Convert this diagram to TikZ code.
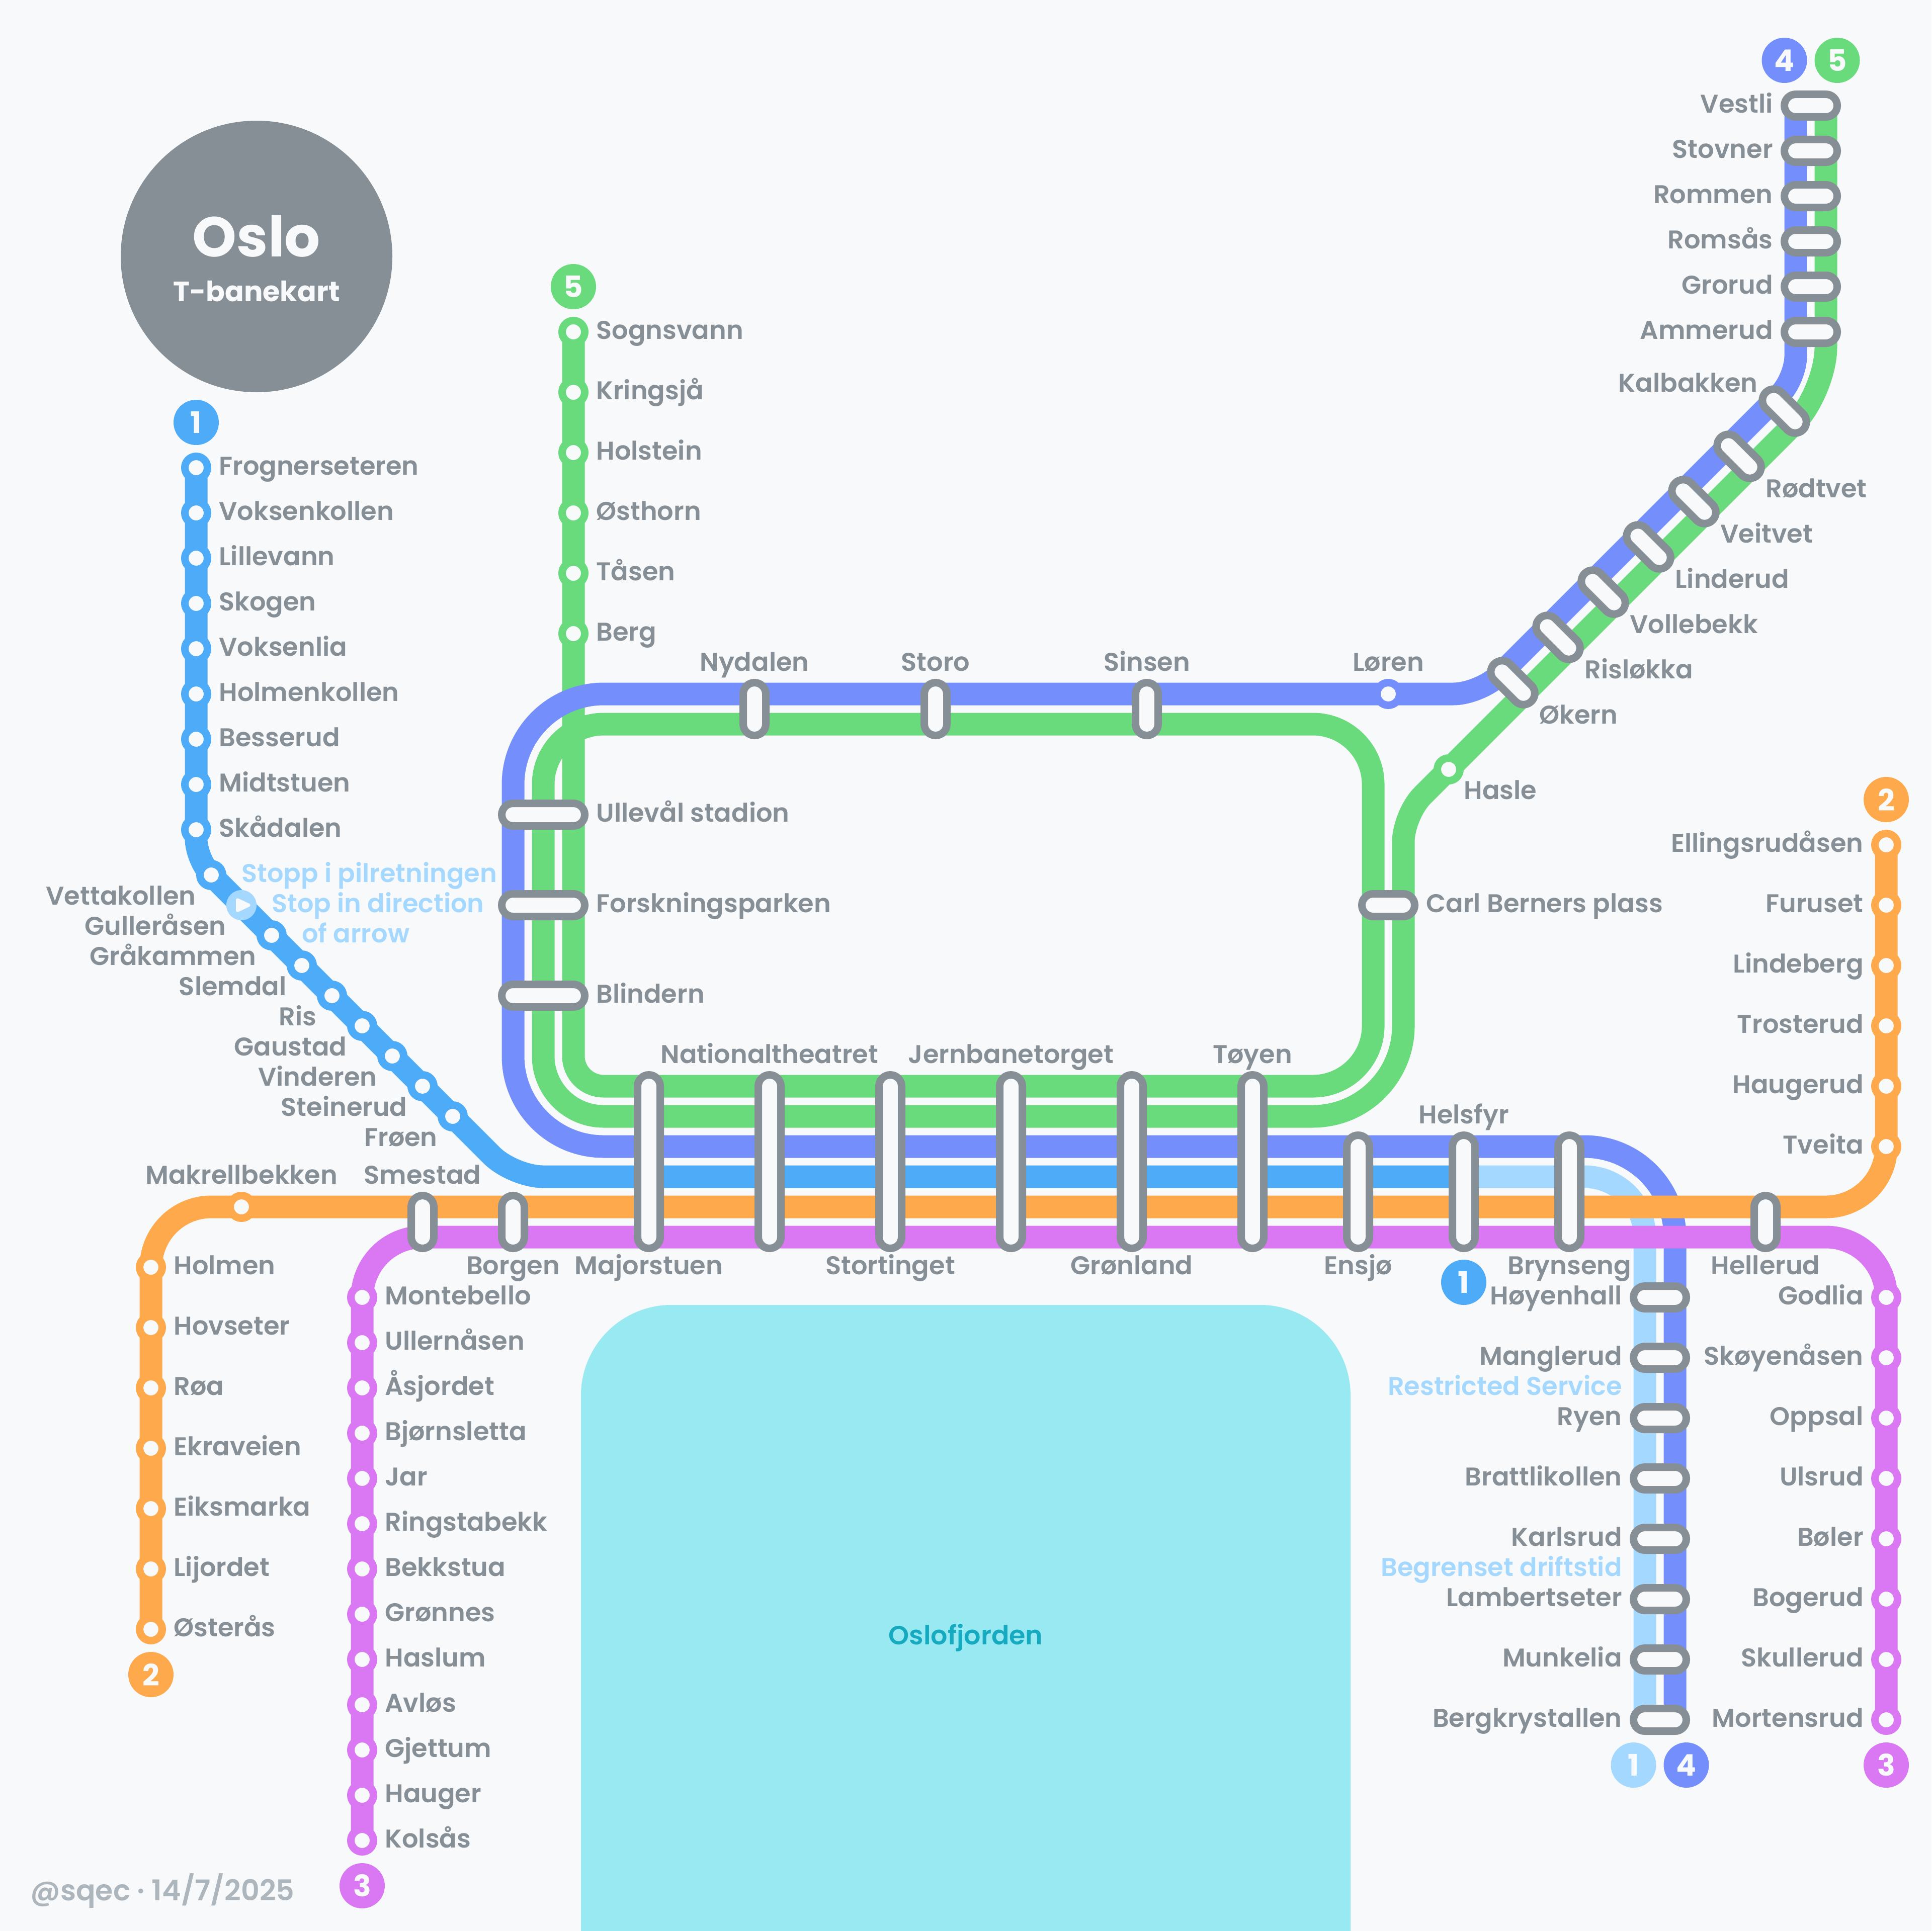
\documentclass[tikz,border=0pt]{standalone}
\usepackage{fontspec}
\setmainfont{Poppins}[UprightFont=* SemiBold,BoldFont=* Bold]
\usetikzlibrary{shapes.misc,backgrounds}
\definecolor{bgc}{HTML}{F8F9FA}
\definecolor{grayc}{HTML}{868E96}
\definecolor{creditc}{HTML}{ADB5BD}
\definecolor{oneDark}{HTML}{4DABF7}
\definecolor{oneLight}{HTML}{A5D8FF}
\definecolor{twoc}{HTML}{FFA94D}
\definecolor{threec}{HTML}{DA77F2}
\definecolor{fourc}{HTML}{748FFC}
\definecolor{fivec}{HTML}{69DB7C}
\definecolor{waterc}{HTML}{99E9F2}
\definecolor{waterText}{HTML}{15AABF}

\begin{document}
\begin{tikzpicture}[%
      x=1cm,y=-1cm,
      line/.style={color=#1,line width=.75cm},
      stop/.style={circle,draw=#1,fill=bgc,line width=.25cm,minimum size=.75cm,inner sep=0pt},
      pill/.style={rounded rectangle,draw=grayc,fill=bgc,line width=.25cm,minimum height=.75cm,minimum width=#1cm-.25cm,inner sep=0pt},
      badge/.style={circle,fill=#1,text=bgc,minimum size=1.5cm,inner sep=0pt,font=\fontsize{28}{28}\selectfont\bfseries},
      lbl/.style={text=grayc,inner sep=0pt,text height=.64cm,text depth=.16cm,font=\fontsize{24.2}{26}\selectfont},
      lblL/.style={lbl,anchor=east},
      lblR/.style={lbl,anchor=west},
      note/.style={lbl,text=oneLight},
      ]
      \useasboundingbox (0,0) rectangle (64,64);

      % line 1
      \node [stop=oneDark] (frognerseteren) at (6.5,15.5) {};
      \node [stop=oneDark] (voksenkollen) at (6.5,17) {};
      \node [stop=oneDark] (lillevann) at (6.5,18.5) {};
      \node [stop=oneDark] (skogen) at (6.5,20) {};
      \node [stop=oneDark] (voksenlia) at (6.5,21.5) {};
      \node [stop=oneDark] (holmenkollen) at (6.5,23) {};
      \node [stop=oneDark] (besserud) at (6.5,24.5) {};
      \node [stop=oneDark] (midtstuen) at (6.5,26) {};
      \node [stop=oneDark] (skadalen) at (6.5,27.5) {};
      \node [stop=oneDark] (vettakollen) at (7,29) {};
      \node [circle,fill=oneLight,minimum size=1cm,inner sep=0pt] (arrowstop) at (8,30) {};
      \node [stop=oneDark] (gulleraasen) at (9,31) {};
      \node [stop=oneDark] (graakammen) at (10,32) {};
      \node [stop=oneDark] (slemdal) at (11,33) {};
      \node [stop=oneDark] (ris) at (12,34) {};
      \node [stop=oneDark] (gaustad) at (13,35) {};
      \node [stop=oneDark] (vinderen) at (14,36) {};
      \node [stop=oneDark] (steinerud) at (15,37) {};
      \filldraw [color=bgc,line width=.1cm,line join=round] (7.87,29.82) -- (7.87,30.18) -- (8.25,30) -- cycle;

      \node [lblR] (frognerseterenT) at (7.25,15.5) {Frognerseteren};
      \node [lblR] (voksenkollenT) at (7.25,17) {Voksenkollen};
      \node [lblR] (lillevannT) at (7.25,18.5) {Lillevann};
      \node [lblR] (skogenT) at (7.25,20) {Skogen};
      \node [lblR] (voksenliaT) at (7.25,21.5) {Voksenlia};
      \node [lblR] (holmenkollenT) at (7.25,23) {Holmenkollen};
      \node [lblR] (besserudT) at (7.25,24.5) {Besserud};
      \node [lblR] (midtstuenT) at (7.25,26) {Midtstuen};
      \node [lblR] (skadalenT) at (7.25,27.5) {Skådalen};
      \node [lblL] (vettakollenT) at (6.5,29.75) {Vettakollen};
      \node [lblL] (gulleraasenT) at (7.5,30.75) {Gulleråsen};
      \node [lblL] (graakammenT) at (8.5,31.75) {Gråkammen};
      \node [lblL] (slemdalT) at (9.5,32.75) {Slemdal};
      \node [lblL] (risT) at (10.5,33.75) {Ris};
      \node [lblL] (gaustadT) at (11.5,34.75) {Gaustad};
      \node [lblL] (vinderenT) at (12.5,35.75) {Vinderen};
      \node [lblL] (steinerudT) at (13.5,36.75) {Steinerud};
      \node [lblL] (froenT) at (14.5,37.75) {Frøen};
      \node [note,anchor=west] (noteA) at (8,29) {Stopp i pilretningen};
      \node [note,anchor=west] (noteB) at (9,30) {Stop in direction};
      \node [note,anchor=west] (noteC) at (10,31) {of arrow};

      % line 2
      \node [stop=twoc] (makrellbekken) at (8,40) {};
      \node [stop=twoc] (holmen) at (5,42) {};
      \node [stop=twoc] (hovseter) at (5,44) {};
      \node [stop=twoc] (roa) at (5,46) {};
      \node [stop=twoc] (ekraveien) at (5,48) {};
      \node [stop=twoc] (eiksmarka) at (5,50) {};
      \node [stop=twoc] (lijordet) at (5,52) {};
      \node [stop=twoc] (osteras) at (5,54) {};
      \node [stop=twoc] (ellingsrud) at (62.5,28) {};
      \node [stop=twoc] (furuset) at (62.5,30) {};
      \node [stop=twoc] (lindeberg) at (62.5,32) {};
      \node [stop=twoc] (trosterud) at (62.5,34) {};
      \node [stop=twoc] (haugerud) at (62.5,36) {};
      \node [stop=twoc] (tveita) at (62.5,38) {};

      \node [lbl] (makrellbekkenT) at (8,39) {Makrellbekken};
      \node [lblR] (holmenT) at (5.75,42) {Holmen};
      \node [lblR] (hovseterT) at (5.75,44) {Hovseter};
      \node [lblR] (roaT) at (5.75,46) {Røa};
      \node [lblR] (ekraveienT) at (5.75,48) {Ekraveien};
      \node [lblR] (eiksmarkaT) at (5.75,50) {Eiksmarka};
      \node [lblR] (lijordetT) at (5.75,52) {Lijordet};
      \node [lblR] (osterasT) at (5.75,54) {Østerås};
      \node [lblL] (ellingsrudT) at (61.75,28) {Ellingsrudåsen};
      \node [lblL] (furusetT) at (61.75,30) {Furuset};
      \node [lblL] (lindebergT) at (61.75,32) {Lindeberg};
      \node [lblL] (trosterudT) at (61.75,34) {Trosterud};
      \node [lblL] (haugerudT) at (61.75,36) {Haugerud};
      \node [lblL] (tveitaT) at (61.75,38) {Tveita};

      % line 3
      \node [stop=threec] (montebello) at (12,43) {};
      \node [stop=threec] (ullernasen) at (12,44.5) {};
      \node [stop=threec] (asjordet) at (12,46) {};
      \node [stop=threec] (bjornsletta) at (12,47.5) {};
      \node [stop=threec] (jar) at (12,49) {};
      \node [stop=threec] (ringstabekk) at (12,50.5) {};
      \node [stop=threec] (bekkstua) at (12,52) {};
      \node [stop=threec] (gronnes) at (12,53.5) {};
      \node [stop=threec] (haslum) at (12,55) {};
      \node [stop=threec] (avlos) at (12,56.5) {};
      \node [stop=threec] (gjettum) at (12,58) {};
      \node [stop=threec] (hauger) at (12,59.5) {};
      \node [stop=threec] (kolsas) at (12,61) {};
      \node [stop=threec] (godlia) at (62.5,43) {};
      \node [stop=threec] (skoyenasen) at (62.5,45) {};
      \node [stop=threec] (oppsal) at (62.5,47) {};
      \node [stop=threec] (ulsrud) at (62.5,49) {};
      \node [stop=threec] (boler) at (62.5,51) {};
      \node [stop=threec] (bogerud) at (62.5,53) {};
      \node [stop=threec] (skullerud) at (62.5,55) {};
      \node [stop=threec] (mortensrud) at (62.5,57) {};

      \node [lblR] (montebelloT) at (12.75,43) {Montebello};
      \node [lblR] (ullernasenT) at (12.75,44.5) {Ullernåsen};
      \node [lblR] (asjordetT) at (12.75,46) {Åsjordet};
      \node [lblR] (bjornslettaT) at (12.75,47.5) {Bjørnsletta};
      \node [lblR] (jarT) at (12.75,49) {Jar};
      \node [lblR] (ringstabekkT) at (12.75,50.5) {Ringstabekk};
      \node [lblR] (bekkstuaT) at (12.75,52) {Bekkstua};
      \node [lblR] (gronnesT) at (12.75,53.5) {Grønnes};
      \node [lblR] (haslumT) at (12.75,55) {Haslum};
      \node [lblR] (avlosT) at (12.75,56.5) {Avløs};
      \node [lblR] (gjettumT) at (12.75,58) {Gjettum};
      \node [lblR] (haugerT) at (12.75,59.5) {Hauger};
      \node [lblR] (kolsasT) at (12.75,61) {Kolsås};
      \node [lblL] (godliaT) at (61.75,43) {Godlia};
      \node [lblL] (skoyenasenT) at (61.75,45) {Skøyenåsen};
      \node [lblL] (oppsalT) at (61.75,47) {Oppsal};
      \node [lblL] (ulsrudT) at (61.75,49) {Ulsrud};
      \node [lblL] (bolerT) at (61.75,51) {Bøler};
      \node [lblL] (bogerudT) at (61.75,53) {Bogerud};
      \node [lblL] (skullerudT) at (61.75,55) {Skullerud};
      \node [lblL] (mortensrudT) at (61.75,57) {Mortensrud};

      % line 5 north, line 4 Loren
      \node [stop=fivec] (sognsvann) at (19,11) {};
      \node [stop=fivec] (kringsja) at (19,13) {};
      \node [stop=fivec] (holstein) at (19,15) {};
      \node [stop=fivec] (osthorn) at (19,17) {};
      \node [stop=fivec] (tasen) at (19,19) {};
      \node [stop=fivec] (berg) at (19,21) {};
      \node [stop=fivec] (hasle) at (48,25.5) {};
      \node [stop=fourc] (loren) at (46,23) {};

      \node [lblR] (sognsvannT) at (19.75,11) {Sognsvann};
      \node [lblR] (kringsjaT) at (19.75,13) {Kringsjå};
      \node [lblR] (holsteinT) at (19.75,15) {Holstein};
      \node [lblR] (osthornT) at (19.75,17) {Østhorn};
      \node [lblR] (tasenT) at (19.75,19) {Tåsen};
      \node [lblR] (bergT) at (19.75,21) {Berg};
      \node [lblR] (hasleT) at (48.5,26.25) {Hasle};
      \node [lbl] (lorenT) at (46,22) {Løren};

      % shared stations
      \node [pill=3] (ullevaal) at (18,27) {};
      \node [pill=3] (forskning) at (18,30) {};
      \node [pill=3] (blindern) at (18,33) {};
      \node [pill=2,rotate=90] (nydalen) at (25,23.5) {};
      \node [pill=2,rotate=90] (storo) at (31,23.5) {};
      \node [pill=2,rotate=90] (sinsen) at (38,23.5) {};
      \node [pill=2] (carlberner) at (46,30) {};
      \node [pill=6,rotate=90] (majorstuen) at (21.5,38.5) {};
      \node [pill=6,rotate=90] (nationaltheatret) at (25.5,38.5) {};
      \node [pill=6,rotate=90] (stortinget) at (29.5,38.5) {};
      \node [pill=6,rotate=90] (jernbanetorget) at (33.5,38.5) {};
      \node [pill=6,rotate=90] (gronland) at (37.5,38.5) {};
      \node [pill=6,rotate=90] (toyen) at (41.5,38.5) {};
      \node [pill=4,rotate=90] (ensjo) at (45,39.5) {};
      \node [pill=4,rotate=90] (helsfyr) at (48.5,39.5) {};
      \node [pill=4,rotate=90] (brynseng) at (52,39.5) {};
      \node [pill=2,rotate=90] (hellerud) at (58.5,40.5) {};
      \node [pill=2,rotate=90] (smestad) at (14,40.5) {};
      \node [pill=2,rotate=90] (borgen) at (17,40.5) {};
      \node [pill=2] (vestli) at (60,3.5) {};
      \node [pill=2] (stovner) at (60,5) {};
      \node [pill=2] (rommen) at (60,6.5) {};
      \node [pill=2] (romsas) at (60,8) {};
      \node [pill=2] (grorud) at (60,9.5) {};
      \node [pill=2] (ammerud) at (60,11) {};
      \node [pill=2,rotate=-45] (kalbakken) at (59.125,13.625) {};
      \node [pill=2,rotate=-45] (rodtvet) at (57.625,15.125) {};
      \node [pill=2,rotate=-45] (veitvet) at (56.125,16.625) {};
      \node [pill=2,rotate=-45] (linderud) at (54.625,18.125) {};
      \node [pill=2,rotate=-45] (vollebekk) at (53.125,19.625) {};
      \node [pill=2,rotate=-45] (rislokka) at (51.625,21.125) {};
      \node [pill=2,rotate=-45] (okern) at (50.125,22.625) {};
      \node [pill=2] (hoyenhall) at (55,43) {};
      \node [pill=2] (manglerud) at (55,45) {};
      \node [pill=2] (ryen) at (55,47) {};
      \node [pill=2] (brattlikollen) at (55,49) {};
      \node [pill=2] (karlsrud) at (55,51) {};
      \node [pill=2] (lambertseter) at (55,53) {};
      \node [pill=2] (munkelia) at (55,55) {};
      \node [pill=2] (bergkrystallen) at (55,57) {};

      \node [lblR] (ullevaalT) at (19.75,27) {Ullevål stadion};
      \node [lblR] (forskningT) at (19.75,30) {Forskningsparken};
      \node [lblR] (blindernT) at (19.75,33) {Blindern};
      \node [lbl] (nydalenT) at (25,22) {Nydalen};
      \node [lbl] (storoT) at (31,22) {Storo};
      \node [lbl] (sinsenT) at (38,22) {Sinsen};
      \node [lblR] (carlbernerT) at (47.25,30) {Carl Berners plass};
      \node [lbl] (majorstuenT) at (21.5,42) {Majorstuen};
      \node [lbl] (nationaltheatretT) at (25.5,35) {Nationaltheatret};
      \node [lbl] (stortingetT) at (29.5,42) {Stortinget};
      \node [lbl] (jernbanetorgetT) at (33.5,35) {Jernbanetorget};
      \node [lbl] (gronlandT) at (37.5,42) {Grønland};
      \node [lbl] (toyenT) at (41.5,35) {Tøyen};
      \node [lbl] (ensjoT) at (45,42) {Ensjø};
      \node [lbl] (helsfyrT) at (48.5,37) {Helsfyr};
      \node [lbl] (brynsengT) at (52,42) {Brynseng};
      \node [lbl] (hellerudT) at (58.5,42) {Hellerud};
      \node [lbl] (smestadT) at (14,39) {Smestad};
      \node [lbl] (borgenT) at (17,42) {Borgen};
      \node [lblL] (vestliT) at (58.75,3.5) {Vestli};
      \node [lblL] (stovnerT) at (58.75,5) {Stovner};
      \node [lblL] (rommenT) at (58.75,6.5) {Rommen};
      \node [lblL] (romsasT) at (58.75,8) {Romsås};
      \node [lblL] (grorudT) at (58.75,9.5) {Grorud};
      \node [lblL] (ammerudT) at (58.75,11) {Ammerud};
      \node [lblL] (kalbakkenT) at (58.25,12.75) {Kalbakken};
      \node [lblR] (rodtvetT) at (58.5,16.25) {Rødtvet};
      \node [lblR] (veitvetT) at (57,17.75) {Veitvet};
      \node [lblR] (linderudT) at (55.5,19.25) {Linderud};
      \node [lblR] (vollebekkT) at (54,20.75) {Vollebekk};
      \node [lblR] (rislokkaT) at (52.5,22.25) {Risløkka};
      \node [lblR] (okernT) at (51,23.75) {Økern};
      \node [lblL] (hoyenhallT) at (53.75,43) {Høyenhall};
      \node [lblL] (manglerudT) at (53.75,45) {Manglerud};
      \node [note,anchor=east] (restrictedT) at (53.75,46) {Restricted Service};
      \node [lblL] (ryenT) at (53.75,47) {Ryen};
      \node [lblL] (brattlikollenT) at (53.75,49) {Brattlikollen};
      \node [lblL] (karlsrudT) at (53.75,51) {Karlsrud};
      \node [note,anchor=east] (begrensetT) at (53.75,52) {Begrenset driftstid};
      \node [lblL] (lambertseterT) at (53.75,53) {Lambertseter};
      \node [lblL] (munkeliaT) at (53.75,55) {Munkelia};
      \node [lblL] (bergkrystallenT) at (53.75,57) {Bergkrystallen};

      % line badges
      \node [badge=oneDark] (badgeOneTop) at (6.5,14) {1};
      \node [badge=fivec] (badgeFiveTop) at (19,9.5) {5};
      \node [badge=fourc] (badgeFourTop) at (59.125,2) {4};
      \node [badge=fivec] (badgeFiveEnd) at (60.875,2) {5};
      \node [badge=twoc] (badgeTwoEnd) at (62.5,26.5) {2};
      \node [badge=twoc] (badgeTwoTop) at (5,55.5) {2};
      \node [badge=threec] (badgeThreeTop) at (12,62.5) {3};
      \node [badge=threec] (badgeThreeEnd) at (62.5,58.5) {3};
      \node [badge=oneLight] (badgeOneEnd) at (54.125,58.5) {1};
      \node [badge=fourc] (badgeFourEnd) at (55.875,58.5) {4};
      \node [badge=oneDark] (badgeOneMid) at (48.5,42.5) {1};

      % title and the rest
      \node [circle,fill=grayc,minimum size=9cm,inner sep=0pt] (title) at (8.5,8.5) {};
      \node [text=bgc,inner sep=0pt,font=\fontsize{53}{53}\selectfont\bfseries] (titleA) at (8.5,7.83) {Oslo};
      \node [text=bgc,inner sep=0pt,font=\fontsize{26.4}{28}\selectfont\bfseries] (titleB) at (8.5,9.65) {T-banekart};
      \node [text=waterText,inner sep=0pt,font=\fontsize{24.8}{26}\selectfont] (fjord) at (32,54.28) {Oslofjorden};
      \node [lblR,text=creditc,font=\fontsize{27}{28}\selectfont] (credit) at (1,62.75) {@sqec~·~14/7/2025};

      % corners of the lines
      \coordinate (fiveA) at (19,36);
      \coordinate (fiveB) at (30,36);
      \coordinate (fiveC) at (45.5,36);
      \coordinate (fiveD) at (45.5,24);
      \coordinate (fiveE) at (18,24);
      \coordinate (fiveF) at (18,37);
      \coordinate (fiveG) at (30,37);
      \coordinate (fiveH) at (46.5,37);
      \coordinate (fiveI) at (46.5,30);
      \coordinate (fiveJ) at (46.5,27);
      \coordinate (fiveK) at (60.5,13);
      \coordinate (fiveL) at (60.5,3.5);
      \coordinate (fourA) at (59.5,3.5);
      \coordinate (fourB) at (59.5,12.55);
      \coordinate (fourC) at (54,18.05);
      \coordinate (fourD) at (49.05,23);
      \coordinate (fourE) at (17,23);
      \coordinate (fourF) at (17,38);
      \coordinate (fourG) at (55.5,38);
      \coordinate (fourH) at (55.5,57);
      \coordinate (oneA) at (6.5,28.5);
      \coordinate (oneB) at (17,39);
      \coordinate (oneC) at (48.5,39);
      \coordinate (oneD) at (54.5,39);
      \coordinate (oneE) at (54.5,57);
      \coordinate (twoA) at (5,40);
      \coordinate (twoB) at (62.5,40);
      \coordinate (threeA) at (12,41);
      \coordinate (threeB) at (62.5,41);

      \begin{scope}[on background layer]
      \fill [color=bgc] (0,0) rectangle (64,64);
      \fill [color=waterc,rounded corners=3cm] (19.25,43.25) -- (44.75,43.25) -- (44.75,70) -- (19.25,70) -- cycle;

      \draw [line=fivec,rounded corners=1cm] (sognsvann.center) -- (fiveA) -- (fiveB);
      \draw [line=fivec,rounded corners=2cm] (fiveB) -- (fiveC) -- (fiveD) -- (fiveE) -- (fiveF) -- (fiveG);
      \draw [line=fivec,rounded corners=3cm] (fiveG) -- (fiveH) -- (fiveI);
      \draw [line=fivec,rounded corners=.9cm] (fiveI) -- (fiveJ) -- (hasle.center);
      \draw [line=fivec,rounded corners=1.5cm] (hasle.center) -- (fiveK) -- (fiveL);

      \draw [line=fourc,rounded corners=.75cm] (fourA) -- (fourB) -- (fourC);
      \draw [line=fourc,rounded corners=.9cm] (fourC) -- (fourD) -- (loren.center);
      \draw [line=fourc,rounded corners=3cm] (loren.center) -- (fourE) -- (fourF) -- (fourG) -- (fourH);

      \draw [line=oneDark,rounded corners=.7cm] (frognerseteren.center) -- (oneA) -- (vettakollen.center);
      \draw [line=oneDark,rounded corners=1cm] (vettakollen.center) -- (oneB) -- (oneC);
      \draw [line=oneLight,rounded corners=2cm] (oneC) -- (oneD) -- (oneE);

      \draw [line=twoc,rounded corners=2cm] (osteras.center) -- (twoA) -- (makrellbekken.center);
      \draw [line=twoc,rounded corners=2cm] (makrellbekken.center) -- (twoB) -- (ellingsrud.center);

      \draw [line=threec,rounded corners=2cm] (kolsas.center) -- (threeA) -- (threeB) -- (mortensrud.center);
      \end{scope}
      \end{tikzpicture}
\end{document}
